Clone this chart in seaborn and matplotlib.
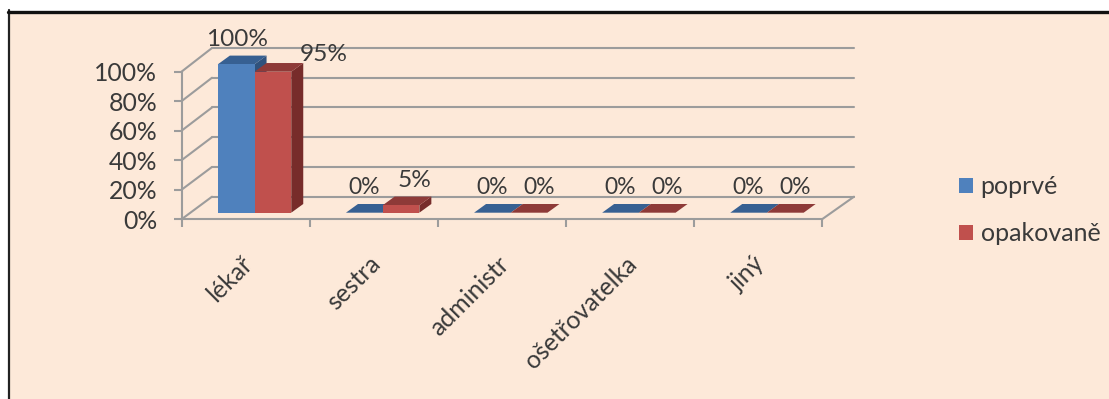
import numpy as np
import matplotlib
matplotlib.use("Agg")
import matplotlib.pyplot as plt
from matplotlib.patches import ConnectionPatch, Polygon, Rectangle
from matplotlib.transforms import Affine2D
import pandas as pd
import seaborn as sns

categories = ["lékař", "sestra", "administr", "ošetřovatelka", "jiný"]
first_visit = [100, 0, 0, 0, 0]
repeat_visit = [95, 5, 0, 0, 0]
series_names = ["poprvé", "opakovaně"]
y_ticks = [0, 20, 40, 60, 80, 100]

W, H = 1109, 399
BG = "#FDE9D9"
GRID = "#9C9C9C"
TEXT = "#3A3A3A"
FRONT = ["#4F81BD", "#C0504D"]
TOP = ["#376092", "#8E3A38"]
SIDE = ["#2F527D", "#772C2A"]
FONT = "Lato"

sns.set_theme(style="white")
plt.rcParams["font.family"] = [FONT, "DejaVu Sans"]


def px_axes(fig, left, right, top, bottom):
    """Axes placed by pixel edges measured from the top-left corner."""
    ax = fig.add_axes([left / W, 1 - bottom / H, (right - left) / W, (bottom - top) / H])
    ax.patch.set_alpha(0)
    ax.set_xlim(-0.5, 4.5)
    ax.set_ylim(0, 100)
    return ax


fig = plt.figure(figsize=(W / 100, H / 100), dpi=100, facecolor="white")

# Panel background with a heavy rule along the top and left edges
fig.add_artist(Rectangle((8 / W, 0), 1 - 8 / W, 1 - 11 / H, transform=fig.transFigure,
                         facecolor=BG, edgecolor="none", zorder=-5))
fig.add_artist(plt.Line2D([8.5 / W, 8.5 / W], [0, 1 - 10 / H], color="#222222", lw=1.6, zorder=-4))
fig.add_artist(plt.Line2D([8 / W, 1], [1 - 11.5 / H, 1 - 11.5 / H], color="#111111", lw=2.4, zorder=-4))

# Back wall: horizontal gridlines
back = px_axes(fig, 212, 854, 48, 196.7)
back.set_yticks(y_ticks)
back.set_xticks([])
back.set_yticklabels([])
back.grid(axis="y", color=GRID, lw=1.5)
for line in back.get_ygridlines():
    line.set_clip_on(False)
back.tick_params(length=0)
sns.despine(ax=back, left=True, bottom=True)

# Front plane: axis lines, ticks and labels
front = px_axes(fig, 181.5, 822, 71.7, 219.3)
front.set_yticks(y_ticks)
front.set_yticklabels([f"{v}%" for v in y_ticks], fontsize=17.8, color=TEXT)
front.set_xticks(np.arange(-0.5, 5, 1))
front.set_xticklabels([])
front.set_xticks(np.arange(5), minor=True)
front.set_xticklabels(categories, minor=True, rotation=45, ha="right",
                      rotation_mode="anchor", fontsize=17.8, color=TEXT)
front.tick_params(axis="both", which="major", length=6, width=1.5, color=GRID,
                  direction="out", left=True, bottom=True)
front.tick_params(axis="y", pad=11.5)
front.tick_params(axis="x", which="minor", length=0, pad=23.5, bottom=False)
label_shift = Affine2D().translate(-5, 0)
for label in front.get_xticklabels(minor=True):
    label.set_transform(label.get_transform() + label_shift)
sns.despine(ax=front)
for side in ("left", "bottom"):
    front.spines[side].set_color(GRID)
    front.spines[side].set_linewidth(1.5)

# Side wall and floor edges joining the front plane to the back wall
for v in y_ticks:
    fig.add_artist(ConnectionPatch((-0.5, v), (-0.5, v), coordsA=front.transData,
                                   coordsB=back.transData, color=GRID, lw=1.5))
fig.add_artist(ConnectionPatch((4.5, 0), (4.5, 0), coordsA=front.transData,
                               coordsB=back.transData, color=GRID, lw=1.5))

# Bars stand on a plane a little behind the front edge of the floor
bars = px_axes(fig, 190.5, 831, 64.3, 212.7)
data = pd.DataFrame({
    "category": categories * 2,
    "share": first_visit + repeat_visit,
    "visit": [series_names[0]] * 5 + [series_names[1]] * 5,
})
sns.barplot(data=data, x="category", y="share", hue="visit", hue_order=series_names,
            palette=FRONT, width=0.573, gap=0, saturation=1, ax=bars, legend=False,
            linewidth=0, order=categories)
bars.set_xlim(-0.5, 4.5)
bars.set_ylim(0, 100)
bars.axis("off")

# Extruded top and side of each bar, offset in screen space
DX, DY = 12, 8.7
to_data = bars.transData.inverted()
ox, oy = to_data.transform(bars.transData.transform((0, 0)) + (DX, DY)) - to_data.transform(bars.transData.transform((0, 0)))
for i in range(2):
    for patch in bars.containers[i]:
        x0, x1 = patch.get_x(), patch.get_x() + patch.get_width()
        h = patch.get_height()
        bars.add_patch(Polygon([(x1, 0), (x1 + ox, oy), (x1 + ox, h + oy), (x1, h)],
                               closed=True, fc=SIDE[i], ec="none", zorder=2.5 + i * 0.1, clip_on=False))
        bars.add_patch(Polygon([(x0, h), (x0 + ox, h + oy), (x1 + ox, h + oy), (x1, h)],
                               closed=True, fc=TOP[i], ec="none", zorder=2.6 + i * 0.1, clip_on=False))
    for patch in bars.containers[i]:
        patch.set_zorder(3 + i)

# Value labels, nudged off the bars in pixels
first_nudge = [(1, 25), (0, 25), (0, 25), (0, 25), (0, 25)]
repeat_nudge = [(51, 17), (14, 25), (10, 25), (10, 25), (10, 25)]
for container, values, nudges in zip(bars.containers, (first_visit, repeat_visit), (first_nudge, repeat_nudge)):
    for patch, v, (nx, ny) in zip(container, values, nudges):
        bars.annotate(f"{v}%", (patch.get_x() + patch.get_width() / 2, v),
                      xytext=(nx * 0.72, ny * 0.72), textcoords="offset points",
                      ha="center", va="center", fontsize=17.6 if v else 16.5,
                      color=TEXT, annotation_clip=False, zorder=10)

# Legend with square keys
handles = [Rectangle((0, 0), 1, 1, fc=c, ec="none") for c in FRONT]
leg = fig.legend(handles, series_names, loc="upper left",
                 bbox_to_anchor=(959 / W, 1 - 175.5 / H), frameon=False, fontsize=18,
                 labelcolor=TEXT, handlelength=0.56, handleheight=0.56,
                 handletextpad=0.30, labelspacing=0.95, borderpad=0, borderaxespad=0)

fig.savefig("out.png", dpi=100, facecolor="white")
